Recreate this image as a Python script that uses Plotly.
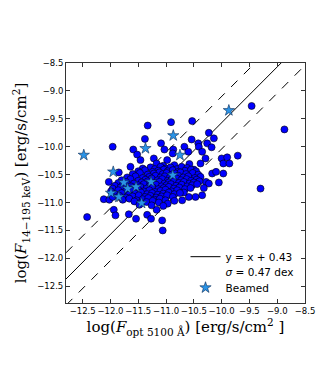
import plotly.graph_objects as go

# ---- data ----
# isolated / outer AGN points
agn_x_outer = [
    -11.33, -10.91, -10.53, -9.46, -8.87,
    -11.96, -11.59, -11.52, -11.46, -11.38,
    -11.09, -11.03, -10.87, -10.88, -10.67, -10.60, -10.54, -10.42, -10.41, -10.35,
    -10.29, -10.26, -10.23, -10.18, -10.14, -10.38, -10.00, -9.97, -9.90, -9.86,
    -9.71, -10.17, -10.10, -9.97, -10.28, -10.23, -10.05, -9.30, -10.35, -10.47,
    -10.59, -10.71, -12.12, -12.02, -11.94, -11.91, -12.42, -11.67, -11.54, -11.34,
    -11.27, -11.17, -11.07, -11.06, -12.03, -11.90, -11.85,
    -11.22, -10.98, -11.64, -10.32,
]
agn_y_outer = [
    -9.62, -9.56, -9.54, -9.27, -9.69,
    -10.00, -10.05, -10.14, -10.24, -9.86,
    -9.94, -10.05, -10.05, -10.12, -10.00, -10.09, -9.87, -9.94, -10.00, -10.09,
    -10.21, -9.94, -9.75, -10.01, -9.85, -10.30, -10.21, -10.30, -10.19, -10.30,
    -10.16, -10.48, -10.45, -10.48, -10.63, -10.66, -10.64, -10.75, -10.87, -10.90,
    -10.90, -10.96, -10.94, -10.95, -11.13, -11.23, -11.26, -11.21, -11.29, -11.22,
    -11.29, -11.13, -11.32, -11.50, -10.63, -10.78, -10.46,
    -10.21, -10.24, -10.36, -10.74,
]

# dense central cloud
agn_x_core = [
    -11.17, -11.05, -10.85, -10.58,
    -11.42, -11.28, -11.20, -11.10, -11.00, -10.92, -10.80, -10.72, -10.62, -10.50,
    -11.50, -11.38, -11.24, -11.14, -11.04, -10.97, -10.88, -10.78, -10.66, -10.55, -10.46,
    -11.60, -11.47, -11.33, -11.22, -11.12, -11.06, -10.99, -10.90, -10.83, -10.74, -10.64, -10.52, -10.42,
    -11.70, -11.55, -11.42, -11.30, -11.19, -11.10, -11.02, -10.94, -10.86, -10.78, -10.69, -10.60, -10.48, -10.38,
    -11.80, -11.64, -11.50, -11.37, -11.26, -11.15, -11.07, -10.97, -10.90, -10.81, -10.73, -10.63, -10.55, -10.45,
    -11.86, -11.72, -11.58, -11.44, -11.33, -11.22, -11.12, -11.03, -10.95, -10.86, -10.77, -10.68, -10.58, -10.50, -10.40,
    -11.92, -11.78, -11.63, -11.50, -11.40, -11.29, -11.18, -11.08, -10.99, -10.91, -10.82, -10.72, -10.62, -10.53, -10.44,
    -11.96, -11.82, -11.68, -11.56, -11.46, -11.35, -11.24, -11.14, -11.04, -10.95, -10.86, -10.76, -10.66, -10.56,
    -11.99, -11.86, -11.74, -11.62, -11.50, -11.40, -11.30, -11.20, -11.10, -11.01, -10.90, -10.80, -10.68,
    -11.92, -11.80, -11.67, -11.55, -11.45, -11.34, -11.25, -11.15, -11.05, -10.95, -10.85, -10.75,
    -11.96, -11.84, -11.72, -11.60, -11.49, -11.38, -11.28, -11.18, -11.08, -10.98, -10.88,
    -11.78, -11.66, -11.53, -11.42, -11.32, -11.21, -11.11, -11.01, -10.85,
    -11.57, -11.46, -11.35, -11.24, -11.13, -10.97,
    -11.48, -11.26, -11.05,
]
agn_y_core = [
    -10.30, -10.34, -10.33, -10.31,
    -10.39, -10.37, -10.40, -10.36, -10.39, -10.37, -10.40, -10.36, -10.38, -10.41,
    -10.44, -10.42, -10.45, -10.43, -10.41, -10.44, -10.42, -10.45, -10.43, -10.41, -10.44,
    -10.49, -10.47, -10.50, -10.48, -10.46, -10.49, -10.47, -10.50, -10.48, -10.46, -10.49, -10.47, -10.50,
    -10.55, -10.53, -10.56, -10.54, -10.52, -10.55, -10.53, -10.56, -10.54, -10.52, -10.55, -10.53, -10.56, -10.54,
    -10.60, -10.58, -10.61, -10.59, -10.57, -10.60, -10.58, -10.61, -10.59, -10.57, -10.60, -10.58, -10.61, -10.59,
    -10.65, -10.63, -10.66, -10.64, -10.62, -10.65, -10.63, -10.66, -10.64, -10.62, -10.65, -10.63, -10.66, -10.64, -10.62,
    -10.70, -10.68, -10.71, -10.69, -10.67, -10.70, -10.68, -10.71, -10.69, -10.67, -10.70, -10.68, -10.71, -10.69, -10.67,
    -10.75, -10.73, -10.76, -10.74, -10.72, -10.75, -10.73, -10.76, -10.74, -10.72, -10.75, -10.73, -10.76, -10.74,
    -10.80, -10.78, -10.81, -10.79, -10.77, -10.80, -10.78, -10.81, -10.79, -10.77, -10.80, -10.78, -10.82,
    -10.85, -10.83, -10.86, -10.84, -10.82, -10.85, -10.83, -10.86, -10.84, -10.82, -10.85, -10.83,
    -10.90, -10.88, -10.91, -10.89, -10.87, -10.90, -10.88, -10.91, -10.89, -10.87, -10.90,
    -10.95, -10.93, -10.96, -10.94, -10.92, -10.95, -10.93, -10.96, -10.97,
    -10.98, -11.01, -10.99, -10.97, -11.00, -11.02,
    -11.04, -11.05, -11.06,
]

# beamed sources
beamed_x = [-12.48, -11.95, -11.76, -11.99, -11.85, -11.69, -11.54, -11.44,
            -11.37, -10.87, -10.75, -11.27, -10.88, -9.87]
beamed_y = [-10.15, -10.45, -10.64, -10.83, -10.90, -10.75, -10.72, -11.01,
            -10.03, -9.80, -10.15, -10.63, -10.51, -9.35]

# relation: y = x + 0.43, scatter 0.47 dex
offset = 0.43
sigma = 0.47
line_x = [-12.8, -8.5]

axis_range = [-12.8, -8.5]
tick_vals = [-12.5, -12.0, -11.5, -11.0, -10.5, -10.0, -9.5, -9.0, -8.5]

fig = go.Figure()

fig.add_trace(go.Scatter(
    x=line_x, y=[v + offset for v in line_x], mode="lines",
    line=dict(color="black", width=1), name="y = x + 0.43", legend="legend",
))
fig.add_trace(go.Scatter(
    x=[None], y=[None], mode="lines",
    line=dict(color="rgba(0,0,0,0)", width=0), name="<i>σ</i> = 0.47 dex",
    legend="legend2",
))
for sgn in (1, -1):
    fig.add_trace(go.Scatter(
        x=line_x, y=[v + offset + sgn * sigma for v in line_x], mode="lines",
        line=dict(color="black", width=1, dash="dash"), showlegend=False,
    ))

fig.add_trace(go.Scatter(
    x=agn_x_outer + agn_x_core, y=agn_y_outer + agn_y_core, mode="markers",
    marker=dict(size=7, color="#0000ff", line=dict(color="black", width=0.6)),
    showlegend=False,
))
fig.add_trace(go.Scatter(
    x=beamed_x, y=beamed_y, mode="markers", name="Beamed", legend="legend3",
    marker=dict(size=8.5, symbol="star", color="#2a93e6",
                line=dict(color="#0a2a55", width=0.6)),
))

axis_common = dict(
    range=axis_range, tickvals=tick_vals, ticks="inside", ticklen=4,
    tickcolor="#333", mirror="allticks", showline=True, linecolor="#333",
    linewidth=1, showgrid=False, zeroline=False, tickangle=0,
    tickfont=dict(family="DejaVu Sans", size=8.5, color="black"),
    tickformat=".1f",
)

fig.update_xaxes(
    **axis_common,
    title=dict(text="log(<i>F</i><sub>opt 5100 Å</sub>) [erg/s/cm<sup>2</sup> ]",
               font=dict(family="DejaVu Serif", size=15, color="black"), standoff=6),
)
fig.update_yaxes(
    **axis_common,
    title=dict(text="log(<i>F</i><sub>14−195 keV</sub>) [erg/s/cm<sup>2</sup>]",
               font=dict(family="DejaVu Serif", size=15, color="black"), standoff=6),
)

leg = dict(x=0.5, xanchor="left", yanchor="middle",
           bgcolor="rgba(0,0,0,0)", borderwidth=0,
           font=dict(family="DejaVu Sans", size=10.5, color="black"),
           itemwidth=30)

# the page body adds an 8px offset, so the figure is drawn 8px smaller
fig.update_layout(
    width=319, height=374,
    margin=dict(l=58, r=20, t=55, b=79),
    paper_bgcolor="white", plot_bgcolor="white",
    showlegend=True,
    legend=dict(leg, y=0.193),
    legend2=dict(leg, y=0.128),
    legend3=dict(leg, y=0.064),
)

fig.write_html("out.html")
